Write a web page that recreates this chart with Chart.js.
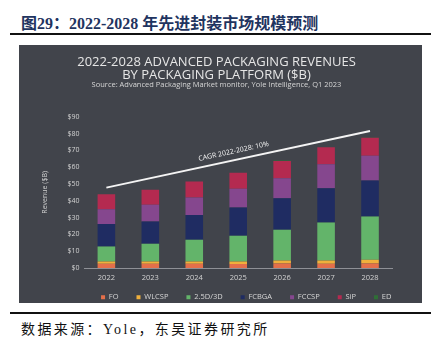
<!DOCTYPE html>
<html>
<head>
<meta charset="utf-8">
<script src="https://cdn.jsdelivr.net/npm/chart.js@4"></script>
<style>
  body { margin: 0; width: 437px; height: 338px; background: #fff; position: relative; overflow: hidden; }
  #title { position: absolute; left: 21px; top: 10px; font: bold 16px "Liberation Serif", "Noto Sans CJK SC", serif; color: #1f3460; white-space: nowrap; }
  .rule { position: absolute; left: 10px; width: 421px; background: #111; }
  #panel { position: absolute; left: 19px; top: 45px; width: 403px; height: 258px; background: #41444b; }
  #foot { position: absolute; left: 21px; top: 318px; font: 14px "Liberation Serif", "Noto Sans CJK SC", serif; color: #111; white-space: nowrap; letter-spacing: 2.4px; }
</style>
</head>
<body>
<div id="title">图29：2022-2028 年先进封装市场规模预测</div>
<div class="rule" style="top:33px;height:2px"></div>
<div id="panel"><canvas id="packChart" width="403" height="258"></canvas></div>
<div class="rule" style="top:312px;height:1.5px"></div>
<div id="foot">数据来源：Yole，东吴证券研究所</div>
<script>
// values, $B
const years = ['2022', '2023', '2024', '2025', '2026', '2027', '2028'];
const fo    = [2.5, 2.5, 2.5, 2.4, 2.7, 2.6, 2.7];
const wlcsp = [1.4, 1.4, 1.4, 1.5, 1.8, 1.9, 2.2];
const d25   = [8.9, 10.5, 12.9, 15.3, 18.2, 22.6, 25.7];
const fcbga = [13.3, 13.3, 14.8, 16.8, 18.8, 20.4, 21.4];
const fccsp = [8.9, 9.9, 10.3, 11.1, 11.9, 14.2, 14.8];
const sip   = [8.9, 8.9, 9.5, 9.5, 10.3, 10.1, 10.7];
const ed    = [0.1, 0.1, 0.1, 0.1, 0.2, 0.2, 0.2];
const cagrLine = [47.8, null, null, null, null, null, 81.5];
const cagrLabel = 'CAGR 2022-2028: 10%';

Chart.defaults.font.family = "'Open Sans', sans-serif";
Chart.defaults.color = '#d2d2d2';

function bar(label, data, color) {
  return {
    type: 'bar',
    label: label,
    data: data,
    backgroundColor: color,
    borderWidth: 0,
    barPercentage: 0.4,
    categoryPercentage: 1.0
  };
}

// legend nudge + CAGR text along the trend line
const cagrText = {
  id: 'cagrText',
  afterLayout(chart) {
    const lg = chart.legend;
    const c = (chart.chartArea.left + chart.chartArea.right) / 2 + 8;
    lg.left = c - 190;
    lg.right = c + 190;
    lg.top = chart.chartArea.bottom + 7.5;
  },
  afterDatasetsDraw(chart) {
    const meta = chart.getDatasetMeta(7);
    const p0 = meta.data[0], p1 = meta.data[6];
    const ang = Math.atan2(p1.y - p0.y, p1.x - p0.x);
    const mx = (p0.x + p1.x) / 2 - 3, my = (p0.y + p1.y) / 2 - 0.6;
    const ctx = chart.ctx;
    ctx.save();
    ctx.translate(mx + 7.5 * Math.sin(ang), my - 7.5 * Math.cos(ang));
    ctx.rotate(ang);
    ctx.font = "7px 'Open Sans', sans-serif";
    ctx.fillStyle = '#f2f2f2';
    ctx.textAlign = 'center';
    ctx.textBaseline = 'middle';
    ctx.fillText(cagrLabel, 0, 0);
    ctx.restore();
  }
};

new Chart(document.getElementById('packChart'), {
  data: {
    labels: years,
    datasets: [
      bar('FO', fo, '#e46f4a'),
      bar('WLCSP', wlcsp, '#f0b03c'),
      bar('2.5D/3D', d25, '#63b46a'),
      bar('FCBGA', fcbga, '#1f2c62'),
      bar('FCCSP', fccsp, '#85478e'),
      bar('SiP', sip, '#b42a50'),
      bar('ED', ed, '#2f6f36'),
      {
        type: 'line',
        label: 'CAGR',
        data: cagrLine,
        yAxisID: 'y2',
        borderColor: '#f4f4f4',
        borderWidth: 2,
        pointRadius: 0,
        spanGaps: true
      }
    ]
  },
  plugins: [cagrText],
  options: {
    responsive: false,
    animation: false,
    layout: { padding: { left: 22, right: 30, top: 0, bottom: 0 } },
    scales: {
      x: {
        stacked: true,
        grid: { display: false, drawTicks: false },
        border: { display: true, color: '#8e9096', width: 1 },
        ticks: { font: { size: 7.5 }, color: '#d2d2d2', padding: 5 }
      },
      y: {
        stacked: true,
        min: 0,
        max: 90,
        grid: { display: false, drawTicks: false },
        border: { display: false },
        ticks: {
          stepSize: 10,
          font: { size: 7 },
          color: '#d2d2d2',
          padding: 5,
          callback: function(value) { return '$' + value; }
        },
        title: {
          display: true,
          text: 'Revenue ($B)',
          font: { size: 7 },
          color: '#d2d2d2',
          padding: { top: 0, bottom: 13 }
        }
      },
      y2: { display: false, min: 0, max: 90 }
    },
    plugins: {
      title: {
        display: true,
        text: ['2022-2028 ADVANCED PACKAGING REVENUES', 'BY PACKAGING PLATFORM ($B)'],
        color: '#e6e6e6',
        font: { size: 13, weight: 'normal', lineHeight: 1.0 },
        padding: { top: 10.5, bottom: 0 }
      },
      subtitle: {
        display: true,
        text: 'Source: Advanced Packaging Market monitor, Yole Intelligence, Q1 2023',
        color: '#d6d6d6',
        font: { size: 7.5, lineHeight: 1.0 },
        padding: { top: 0, bottom: 27.7 }
      },
      legend: {
        position: 'bottom',
        maxHeight: 16,
        labels: {
          boxWidth: 4,
          boxHeight: 4,
          padding: 18,
          font: { size: 7.5 },
          color: '#d6d6d6',
          filter: function(item) { return item.datasetIndex < 7; }
        }
      },
      tooltip: { enabled: false }
    }
  }
});
</script>
</body>
</html>
